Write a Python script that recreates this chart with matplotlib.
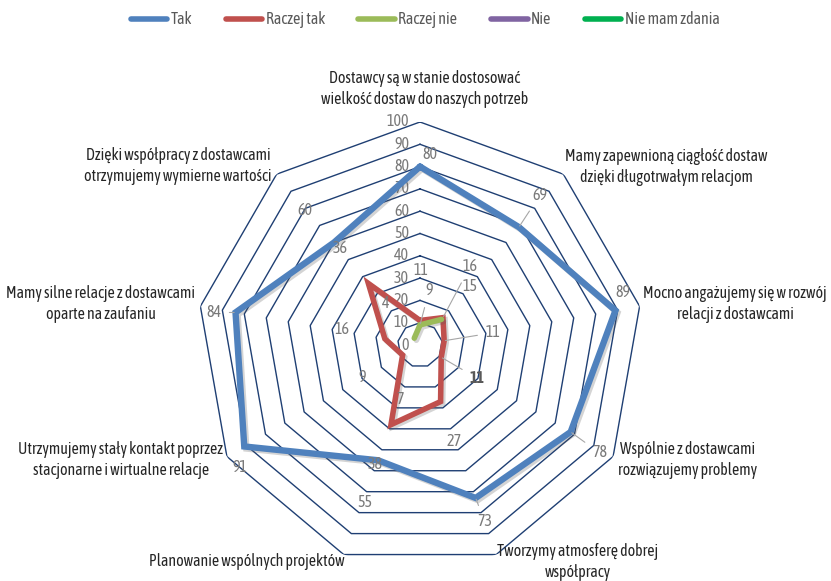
import numpy as np
import matplotlib
matplotlib.use('Agg')
import matplotlib.pyplot as plt
import matplotlib.patheffects as pe
from matplotlib.lines import Line2D

plt.rcParams['font.family'] = ['Asap Condensed', 'DejaVu Sans']

nan = np.nan

categories = [
    'Dostawcy są w stanie dostosować\nwielkość dostaw do naszych potrzeb',
    'Mamy zapewnioną ciągłość dostaw\ndzięki długotrwałym relacjom',
    'Mocno angażujemy się w rozwój\nrelacji z dostawcami',
    'Wspólnie z dostawcami\nrozwiązujemy problemy',
    'Tworzymy atmosferę dobrej\nwspółpracy',
    'Planowanie wspólnych projektów',
    'Utrzymujemy stały kontakt poprzez\nstacjonarne i wirtualne relacje',
    'Mamy silne relacje z dostawcami\noparte na zaufaniu',
    'Dzięki współpracy z dostawcami\notrzymujemy wymierne wartości',
]
series_names = ['Tak', 'Raczej tak', 'Raczej nie', 'Nie', 'Nie mam zdania']
tak = [80, 69, 89, 78, 73, 55, 91, 84, 60]
raczej_tak = [11, 16, 11, 11, 27, 38, 9, 16, 36]
raczej_nie = [9, 15, nan, nan, nan, 7, nan, nan, 4]
nie = [nan] * 9
nie_mam_zdania = [nan] * 9
ring_ticks = [0, 10, 20, 30, 40, 50, 60, 70, 80, 90, 100]

colors = ['#4F81BD', '#C0504D', '#9BBB59', '#8064A2', '#00B050']
widths = [4.6, 4.0, 4.0, 4.0, 4.0]
grid_color = '#1F3F73'
label_gray = '#7A7A7A'

# label offsets in pixels (right, up) and whether a leader line is drawn
offsets = [
    [(10, 12), (21, 32), (7, 18), (29, -21), (9, -24), (-13, -42), (-4, -21), (-22, 0), (-29, 32)],
    [(1, 50), (27, 51), (49, 8), (36, -21), (14, -40), (-16, -40), (-40, -22), (-43, 9), (-28, 35)],
    [(9, 34), (29, 33), None, None, None, (-15, -40), None, None, (-29, 35)],
]
leaders = [
    [0, 1, 0, 1, 1, 0, 0, 1, 0],
    [0, 1, 1, 1, 0, 0, 0, 0, 0],
    [1, 0, 0, 0, 0, 0, 0, 0, 0],
]

# category label centres in figure pixels (x, y from top)
cat_pos = [(425, 89), (666, 167), (735, 304), (688, 460), (578, 562),
           (247, 562), (121, 460), (101, 304), (178, 166)]

W, H = 831, 581
fig = plt.figure(figsize=(W / 100, H / 100), dpi=100)
ax = fig.add_axes([197 / W, 13 / H, 446 / W, 446 / H], projection='polar')
ax.set_theta_zero_location('N')
ax.set_theta_direction(-1)
ax.set_ylim(0, 100)
ax.axis('off')

n = len(categories)
angles = np.arange(n) * 2 * np.pi / n
closed = np.append(angles, angles[0])

for t in ring_ticks[1:]:
    ax.plot(closed, [t] * (n + 1), color=grid_color, lw=1.0, zorder=1)
for t in ring_ticks:
    ax.annotate(str(t), (0, t), xytext=(-11, 0), textcoords='offset pixels',
                ha='right', va='center', color=label_gray, fontsize=11.5)

all_series = [tak, raczej_tak, raczej_nie, nie, nie_mam_zdania]
shadow = [pe.SimpleLineShadow(offset=(1.5, -1.5), alpha=0.25, shadow_color='#555555'),
          pe.Normal()]
for i, vals in enumerate(all_series):
    v = np.append(vals, vals[0])
    ax.plot(closed, v, color=colors[i], lw=widths[i], solid_joinstyle='miter',
            solid_capstyle='round', path_effects=shadow, zorder=3 + i)

for i, vals in enumerate(all_series[:3]):
    for k, val in enumerate(vals):
        if np.isnan(val):
            continue
        arrow = None
        if leaders[i][k]:
            arrow = dict(arrowstyle='-', color='#A6A6A6', lw=0.8,
                         shrinkA=4, shrinkB=1)
        ax.annotate(f'{val:g}', (angles[k], val), xytext=offsets[i][k],
                    textcoords='offset pixels', ha='center', va='center',
                    color='#595959' if (i == 1 and k == 3) else label_gray,
                    fontsize=11.5, arrowprops=arrow,
                    fontweight='bold' if (i == 1 and k == 3) else 'normal',
                    zorder=10)

for lab, (x, y) in zip(categories, cat_pos):
    fig.text(x / W, 1 - y / H, lab, ha='center', va='center', fontsize=11.4,
             color='#262626', linespacing=1.3)

handles = [Line2D([], [], color=c, lw=4, solid_capstyle='round') for c in colors]
fig.legend(handles, series_names, loc='center', bbox_to_anchor=(425 / W, 1 - 20 / H),
           ncol=5, frameon=False, fontsize=11.5, handlelength=2.3,
           handletextpad=0.2, columnspacing=2.1, labelcolor='#595959')

fig.savefig('out.png', dpi=100)
